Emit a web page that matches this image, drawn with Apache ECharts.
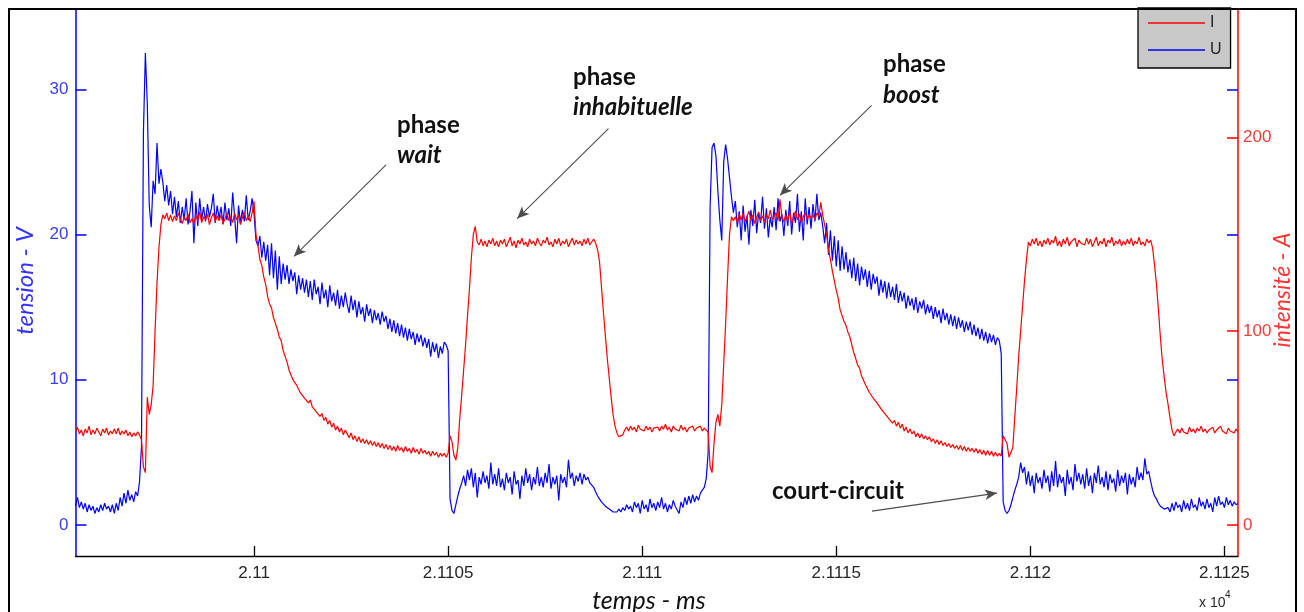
<!DOCTYPE html>
<html><head><meta charset="utf-8">
<script src="https://cdn.jsdelivr.net/npm/echarts@6/dist/echarts.min.js"></script>
<style>html,body{margin:0;padding:0;background:#fff}#c{width:1304px;height:612px}</style>
</head><body><div id="c"></div>
<script>
// sampling grid of the oscilloscope record (ms)
const T0 = 21095.4, DT = 0.05, TMAX = 21125.35;
const xTicks = [21100, 21105, 21110, 21115, 21120, 21125];
const uTicks = [0, 10, 20, 30];
const iTicks = [0, 100, 200];
const uTicksRight = [10, 20, 30];

// tension U (V), one row = 1 ms
const U = [
1.3,1.9,1.2,1.6,1.1,1.5,0.9,1.4,1.0,1.3,0.8,1.2,0.9,1.4,1.0,1.5,1.1,1.3,0.9,1.4,
0.8,1.5,1.0,1.9,1.3,2.2,1.5,2.4,1.7,2.1,1.6,2.3,2.0,3.0,5.4,27.0,32.5,29.0,22.0,20.5,
23.7,22.8,26.3,23.5,24.5,23.6,22.3,23.4,22.0,23.0,21.4,22.6,21.2,22.3,20.8,21.9,21.0,22.5,20.7,21.6,
23.0,19.4,22.2,20.6,22.5,21.0,21.9,20.9,22.1,21.2,21.8,22.8,20.8,22.0,21.1,21.9,20.7,22.2,21.0,21.8,
20.6,22.9,21.2,19.4,22.0,20.8,21.7,20.9,22.7,21.0,21.6,22.5,21.4,19.6,19.2,19.9,18.4,19.5,18.2,19.3,
17.2,19.4,17.0,18.9,16.2,18.5,16.6,18.0,16.9,17.9,16.6,17.6,16.8,17.4,15.9,17.2,16.2,17.0,16.0,16.9,
15.7,16.8,15.5,16.9,15.9,16.4,15.2,16.7,15.6,16.2,15.0,16.5,15.4,16.0,15.1,16.2,14.9,15.8,15.0,16.0,
15.2,14.6,15.8,14.8,15.5,14.3,15.4,14.5,15.0,14.0,15.2,14.4,14.9,13.9,14.8,14.1,14.6,13.8,14.7,14.0,
14.4,13.5,14.2,13.3,14.1,13.2,13.9,13.0,13.8,12.9,13.6,12.7,13.5,12.8,13.3,12.4,13.2,12.6,13.1,12.3,
12.9,12.2,12.8,11.6,12.6,11.9,12.5,11.5,12.3,11.8,12.6,12.4,12.0,1.8,1.0,0.8,1.4,2.0,2.5,2.9,
3.4,2.7,3.8,3.1,3.9,2.6,3.6,1.9,3.3,2.8,3.7,2.9,3.4,2.5,4.3,2.8,3.5,2.7,3.9,2.6,
3.2,2.4,3.6,2.9,3.3,2.1,3.7,2.8,3.1,1.8,3.4,2.7,3.9,2.9,3.5,2.4,3.3,2.8,4.0,2.7,
3.3,2.6,3.6,2.9,4.2,2.5,3.3,2.8,3.4,1.7,3.5,2.9,3.3,2.6,4.5,3.2,3.6,2.7,3.4,3.0,
3.6,2.8,3.5,3.1,3.3,2.9,3.0,2.6,2.3,2.0,1.8,1.6,1.5,1.3,1.2,1.1,1.0,0.9,1.0,0.9,
1.1,0.9,1.2,1.0,1.4,1.1,1.3,0.9,1.6,1.2,1.5,0.8,1.7,1.1,1.4,0.9,1.8,1.2,1.5,1.0,
1.6,1.2,1.9,1.1,1.5,0.9,1.4,1.1,1.7,1.3,1.2,0.8,1.6,1.2,1.9,1.4,2.0,1.5,2.1,1.6,
2.0,1.7,2.2,2.4,2.6,3.2,5.0,21.9,26.0,26.3,25.4,23.0,21.0,19.6,25.0,26.2,25.2,23.9,22.6,21.5,
22.3,20.5,21.6,19.6,22.0,20.2,21.3,19.3,21.7,20.6,22.4,20.1,21.5,20.8,22.6,20.4,21.8,19.8,21.2,20.5,
21.9,20.3,22.5,20.9,21.4,19.9,21.7,20.6,22.3,20.0,21.5,20.8,22.8,20.2,21.6,19.6,22.5,20.7,21.9,20.4,
22.1,20.9,22.8,21.0,21.5,20.6,19.4,20.8,18.6,20.3,18.2,19.9,17.8,19.6,17.5,19.2,17.6,18.8,17.4,18.3,
17.0,18.4,16.8,18.0,16.5,17.8,16.9,17.6,16.4,17.5,16.2,17.3,16.6,17.1,15.8,16.9,16.0,16.8,15.6,16.7,
15.7,16.4,15.5,16.6,15.3,16.1,15.4,16.0,14.9,15.8,15.1,15.6,14.8,15.7,14.6,15.4,14.9,15.5,14.5,15.2,
14.6,15.1,14.2,15.0,14.3,14.8,13.9,14.9,14.1,14.6,13.8,14.5,13.7,14.4,13.5,14.3,13.6,14.1,13.3,14.0,
13.4,14.0,13.1,13.8,13.0,13.6,12.8,13.5,12.7,13.3,12.5,13.2,12.6,13.1,12.4,12.9,12.7,11.8,1.6,1.0,
0.8,1.0,1.4,1.9,2.4,2.8,3.3,4.3,3.6,4.0,2.8,3.7,2.7,3.4,2.2,3.6,2.9,3.3,2.5,3.8,
2.9,3.4,2.3,3.7,2.7,4.4,2.6,3.5,2.9,3.3,2.0,3.8,2.8,3.3,2.4,4.2,3.0,3.6,2.8,3.5,
2.5,3.9,2.7,3.4,2.2,3.6,2.9,4.1,2.8,3.3,2.6,3.7,2.4,3.5,2.9,3.2,2.3,3.8,2.7,3.4,
2.9,3.6,2.1,3.5,2.8,3.3,2.6,4.0,3.1,3.6,3.1,4.6,3.5,3.7,3.0,2.4,2.0,1.8,1.5,1.3,
1.2,1.1,1.0,1.2,0.9,1.5,1.0,1.6,1.2,1.4,0.9,1.7,1.1,1.5,1.0,1.8,1.2,1.4,1.0,1.9,
1.3,1.6,1.1,1.8,1.2,1.5,0.9,1.9,1.3,2.0,1.4,1.6,1.2,1.9,1.4,1.7,1.3,1.6,1.4,1.5
];

// intensité I (A), one row = 1 ms
const I = [
48,50.5,47,49,46,49.5,47.5,51,46.5,49,47,50,48,46,49.5,47.5,50,46.5,48.5,47,
49.5,47,50,46.5,48.5,47,49,46,48,45.5,47.5,46,48,46.5,44,30,27,66,57,62,
72,100,125,143,155,160,158,161,157,160,156.5,159.5,157,161,158,155.5,159,157,160.5,156,
158,155.5,160,157,161.5,156,159,157.5,160.5,155,158.5,161,156.5,159.5,157,160,155.5,158,161,157,
159,156,161,157.5,160,155,158.5,161.5,157,159.5,156.5,161,167,150,144,137,134,128,124,118,
114,112,107,104,101,97,95,90,87,84,80,79,75,75.5,72,71.5,68,69,65.5,66,
63,64.5,61,62,58.5,59.5,56,57.5,54,55.5,52,54,50.5,52.5,49,51,48,50,46.5,49,
47,45,47.5,44,46,43,45.5,42.5,44.5,42,44,41.5,43.5,41,43,40.5,42.5,40,42,39.5,
41.5,39,41,38.5,40.5,38,41,38.5,40,37.5,40.5,38,39.5,37,40,37.5,39,36.5,39.5,37,
38.5,36.5,38,35.5,38,36,37.5,35,37,35.5,37,35,37,46,43,36,33.5,40,55,67,
80,93,108,122,138,150,154,146,144.5,147.5,144,146.5,143.5,147,145,148,144,146.5,143.5,147,
145,147.5,143.5,146,148.5,144,146.5,143,147,145,148,144.5,146,143.5,147.5,145,146.5,144,148,145.5,
144,147,145.5,148.5,144.5,146,143.5,147.5,145,148,144,146.5,145,147.5,143.5,146,148,144.5,147,145,
146.5,144,147.5,145,148,144.5,146,147.5,145.5,142,136,123,110,98,86,76,66,57,51,47.5,
45.5,44.5,46.5,49,50.5,48.5,51,49,50.5,48,51.5,49.5,50,48.5,51,49,50.5,48,50,49,
50.5,48.5,51,49.5,52,49,50.5,48,51,49.5,50,48.5,51.5,49,50.5,48,50,49.5,51,48.5,
50,49,51,48.5,50,49.5,48,30,27,42,53,57,51,62,83,104,128,150,159,157,
159,156,160.5,157.5,161,156.5,159,162,157,160,155.5,158.5,161.5,157,159.5,156,160,158,162.5,157.5,
158,161,157,168,159,156.5,160,157,161.5,155.5,159,162,157.5,160.5,156,159,161,157.5,160,158.5,
160,157.5,161,159,166.5,160,155,150,142,137,131,126,121,117,111,108,105,103,99.5,97,
93,89,86,82.5,81,77,76,72.5,72,68.5,69,65.5,66,63,63.5,60,61,57.5,58,55,
55.5,52.5,54,51,53,50,52,48.5,50.5,47.5,49.5,47,48.5,45.5,47.5,45,47,44.5,46,44,
45.5,43,44.5,42,44,41.5,43.5,41,42.5,40.5,42,40,41.5,39.5,41,39,41,38.5,40.5,38,
40,38,39.5,37.5,39.5,37,39,36.5,38.5,36,38.5,36,38,35.5,37.5,35.5,37,35.5,46,46,
42,35,34.5,40,56,71,87,100,113,126,137,146,144,147.5,145,148,144,146.5,143.5,147,
145,148,144.5,147,145.5,149,144,146.5,143.5,147.5,145,148.5,144,146,145,148,143.5,147,145.5,146.5,
144.5,148,145,147.5,143.5,146,148.5,144,146.5,145,148,143.5,147,145.5,148.5,144,146.5,145,147.5,144,
146.5,144.5,147.5,145,148,144,146.5,145,148.5,144.5,146,144,147.5,145.5,147,143,134,124,111,97,
85,76,68,62,55,49,46,48,49.5,47.5,50,48,49,47,50.5,48,49.5,47.5,50,48.5,
51,48,49.5,47.5,49,48,50.5,47.5,49,48,51,48.5,49.5,47,50,48.5,49,47.5,49.5,48
];

// annotation arrows (tail -> head) in data coordinates (ms, V)
const arrows = [
  [[21103.40, 24.8], [21101.03, 18.5]],
  [[21109.13, 27.3], [21106.78, 21.1]],
  [[21115.91, 28.9], [21113.55, 22.7]],
  [[21115.92, 0.96], [21119.14, 2.2]]
];

const toPairs = arr => arr.map((v, k) => [+(T0 + k * DT).toFixed(2), v]);
const chart = echarts.init(document.getElementById('c'), null, {renderer: 'canvas'});
const tickFont = 'Liberation Sans';
const mid = {align: 'left', verticalAlign: 'middle', textAlign: 'left', textVerticalAlign: 'middle'};
const ctr = {align: 'center', verticalAlign: 'middle', textAlign: 'center', textVerticalAlign: 'middle'};

chart.setOption({
  animation: false,
  backgroundColor: '#ffffff',
  grid: {left: 75.5, right: 66, top: 10, bottom: 56, containLabel: false},
  legend: {
    data: [{name: 'I', icon: 'rect'}, {name: 'U', icon: 'rect'}],
    orient: 'vertical', left: 1138, top: 8,
    padding: [7, 9, 10, 10], itemGap: 11, itemWidth: 57, itemHeight: 1.4,
    backgroundColor: '#c8c8c8', borderColor: '#000', borderWidth: 1.3, borderRadius: 0,
    textStyle: {fontSize: 16, color: '#222', fontFamily: tickFont, lineHeight: 16},
    selectedMode: false
  },
  xAxis: {
    type: 'value', min: T0, max: TMAX,
    axisLine: {onZero: false, lineStyle: {color: '#000', width: 1.3}},
    axisTick: {show: true, inside: true, length: 10, customValues: xTicks, lineStyle: {color: '#000', width: 1.3}},
    axisLabel: {customValues: xTicks, formatter: v => String(parseFloat((v / 1e4).toFixed(4))),
      color: '#262626', fontSize: 17, fontFamily: tickFont, margin: 9},
    splitLine: {show: false}
  },
  yAxis: [
    {type: 'value', position: 'left', min: -2.13, max: 35.46,
      axisLine: {show: true, onZero: false, lineStyle: {color: '#0000ff', width: 1.5}},
      axisTick: {show: true, inside: true, length: 11, customValues: uTicks, lineStyle: {color: '#0000ff', width: 1.5}},
      axisLabel: {customValues: uTicks, color: '#3c3cf0', fontSize: 17, fontFamily: tickFont, margin: 7},
      splitLine: {show: false}},
    {type: 'value', position: 'right', min: -16.0, max: 265.7,
      axisLine: {show: true, onZero: false, lineStyle: {color: '#ff0000', width: 1.5}},
      axisTick: {show: true, inside: true, length: 11, customValues: iTicks, lineStyle: {color: '#ff0000', width: 1.5}},
      axisLabel: {customValues: iTicks, color: '#f03c3c', fontSize: 17, fontFamily: tickFont, margin: 5},
      splitLine: {show: false}},
    {type: 'value', position: 'right', min: -2.13, max: 35.46,
      axisLine: {show: false, onZero: false},
      axisTick: {show: true, inside: true, length: 11, customValues: uTicksRight, lineStyle: {color: '#0000ff', width: 1.5}},
      axisLabel: {show: false}, splitLine: {show: false}}
  ],
  series: [
    {name: 'U', type: 'line', yAxisIndex: 0, data: toPairs(U), symbol: 'none', showSymbol: false,
      color: '#0000ff', lineStyle: {color: '#0000ff', width: 1.2},
      markLine: {silent: true, symbol: ['none', 'arrow'], symbolSize: [8, 12],
        lineStyle: {color: '#4d4d4d', width: 1.1, type: 'solid'}, label: {show: false},
        data: arrows.map(a => [{coord: a[0]}, {coord: a[1]}])}},
    {name: 'I', type: 'line', yAxisIndex: 1, data: toPairs(I), symbol: 'none', showSymbol: false,
      color: '#ff0000', lineStyle: {color: '#ff0000', width: 1.2}}
  ],
  graphic: [
    {type: 'rect', silent: true, z: 100, shape: {x: 9, y: 9, width: 1287, height: 640},
      style: {fill: 'none', stroke: '#000', lineWidth: 2}},
    {type: 'text', x: 25, y: 281, rotation: Math.PI / 2,
      style: Object.assign({text: 'tension - V', font: 'italic 24px Lato', fill: '#3333ff'}, ctr)},
    {type: 'text', x: 1283, y: 290, rotation: Math.PI / 2,
      style: Object.assign({text: 'intensité - A', font: 'italic 23px Lato', fill: '#ff3333'}, ctr)},
    {type: 'text', x: 649, y: 601,
      style: Object.assign({text: 'temps - ms', font: 'italic 25px Lato', fill: '#111'}, ctr)},
    {type: 'text', x: 1199, y: 603,
      style: Object.assign({text: 'x 10', font: '14px Liberation Sans', fill: '#262626'}, mid)},
    {type: 'text', x: 1225, y: 595,
      style: Object.assign({text: '4', font: '10px Liberation Sans', fill: '#262626'}, mid)},
    {type: 'text', x: 397, y: 125, style: Object.assign({text: 'phase', font: 'bold 24px Lato', fill: '#111'}, mid)},
    {type: 'text', x: 397, y: 155, style: Object.assign({text: 'wait', font: 'italic bold 24px Lato', fill: '#111'}, mid)},
    {type: 'text', x: 573, y: 77, style: Object.assign({text: 'phase', font: 'bold 24px Lato', fill: '#111'}, mid)},
    {type: 'text', x: 573, y: 107, style: Object.assign({text: 'inhabituelle', font: 'italic bold 24px Lato', fill: '#111'}, mid)},
    {type: 'text', x: 883, y: 64, style: Object.assign({text: 'phase', font: 'bold 24px Lato', fill: '#111'}, mid)},
    {type: 'text', x: 883, y: 95, style: Object.assign({text: 'boost', font: 'italic bold 24px Lato', fill: '#111'}, mid)},
    {type: 'text', x: 772, y: 491, style: Object.assign({text: 'court-circuit', font: 'bold 24px Lato', fill: '#111'}, mid)}
  ]
});
</script></body></html>
